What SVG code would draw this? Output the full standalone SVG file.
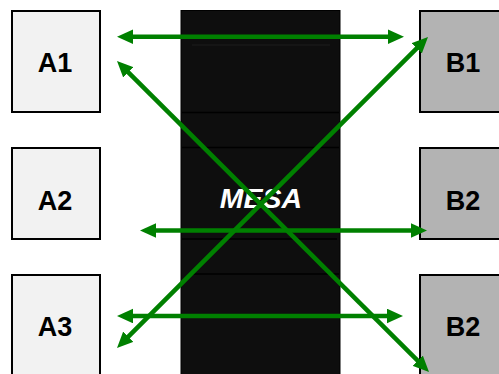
<svg xmlns="http://www.w3.org/2000/svg" width="499" height="374" viewBox="0 0 499 374">
  <style>
    .a { fill: #f2f2f2; stroke: #000; stroke-width: 2; }
    .b { fill: #b3b3b3; stroke: #000; stroke-width: 2; }
    .lbl { font-family: "Liberation Sans", Arial, sans-serif; font-weight: bold; font-size: 27px; fill: #000; text-anchor: middle; }
    .conn { stroke: #008000; stroke-width: 4.5; fill: none; marker-start: url(#ah); marker-end: url(#ah); }
    .sep { stroke: #000; stroke-width: 1.5; }
  </style>
  <defs>
    <marker id="ah" markerUnits="userSpaceOnUse" markerWidth="17" markerHeight="15" refX="1" refY="7.3" orient="auto-start-reverse">
      <path d="M0,0 L16,7.3 L0,14.6 z" fill="#008000"/>
    </marker>
  </defs>
  <rect width="499" height="374" fill="#fff"/>
  <g id="mesa">
    <rect x="181" y="10.5" width="159" height="370" fill="#0e0e0e" stroke="#000" stroke-width="1"/>
    <line x1="192" y1="45" x2="330" y2="45" stroke="#1d1d1d" stroke-width="1"/>
    <line class="sep" x1="182" y1="112.5" x2="339" y2="112.5"/>
    <line class="sep" x1="182" y1="147.5" x2="339" y2="147.5"/>
    <line class="sep" x1="182" y1="239" x2="337" y2="239"/>
    <line class="sep" x1="192" y1="274" x2="339" y2="274"/>
    <text x="261" y="207.5" font-family="'Liberation Sans', Arial, sans-serif" font-weight="bold" font-style="italic" font-size="28.5" fill="#fff" text-anchor="middle">MESA</text>
  </g>
  <g id="A1"><rect class="a" x="12" y="11" width="88" height="101"/><text class="lbl" x="55" y="71.5">A1</text></g>
  <g id="A2"><rect class="a" x="12" y="148" width="88" height="91"/><text class="lbl" x="55" y="209.5">A2</text></g>
  <g id="A3"><rect class="a" x="12" y="275" width="88" height="110"/><text class="lbl" x="55" y="336">A3</text></g>
  <g id="B1"><rect class="b" x="420" y="11" width="90" height="101"/><text class="lbl" x="463" y="71.5">B1</text></g>
  <g id="B2"><rect class="b" x="420" y="148" width="90" height="91"/><text class="lbl" x="463" y="209.5">B2</text></g>
  <g id="B3"><rect class="b" x="420" y="275" width="90" height="110"/><text class="lbl" x="463" y="336">B2</text></g>
  <g id="connectors">
    <line class="conn" x1="132" y1="36.7" x2="389" y2="36.7"/>
    <line class="conn" x1="155" y1="230.5" x2="412" y2="230.5"/>
    <line class="conn" x1="132" y1="316" x2="388" y2="316"/>
    <line class="conn" x1="127.6" y1="71.6" x2="418.4" y2="361.4"/>
    <line class="conn" x1="417.4" y1="47.6" x2="127.6" y2="337.4"/>
  </g>
</svg>
